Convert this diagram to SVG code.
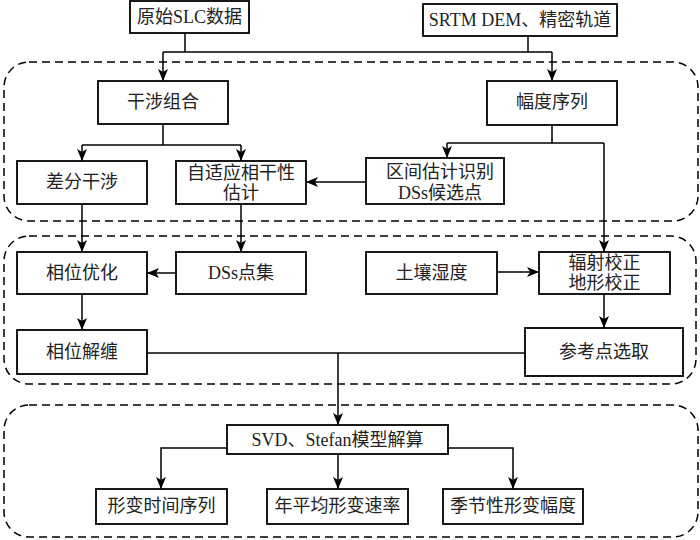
<svg xmlns="http://www.w3.org/2000/svg" width="700" height="540" viewBox="0 0 700 540">
<defs>
<marker id="ah" viewBox="0 0 12 10" refX="12" refY="5" markerWidth="12" markerHeight="10" markerUnits="userSpaceOnUse" orient="auto">
<path d="M0,0 L12,5 L0,10 L3,5 Z" fill="#000"/>
</marker>
<style>
.box{fill:#fff;stroke:#000;stroke-width:1.8}
.grp{fill:none;stroke:#000;stroke-width:1.5;stroke-dasharray:8 5}
.ln{fill:none;stroke:#000;stroke-width:1.5}
.ar{fill:none;stroke:#000;stroke-width:1.5;marker-end:url(#ah)}
text{font-family:"Liberation Serif","Noto Sans CJK SC",serif;font-size:18px;fill:#222;text-anchor:middle;dominant-baseline:central}
</style>
</defs>
<rect width="700" height="540" fill="#fff"/>
<g id="groups">
<rect class="grp" x="4" y="62" width="694" height="159" rx="25" ry="25"/>
<rect class="grp" x="4" y="236" width="692" height="148" rx="25" ry="25"/>
<rect class="grp" x="4" y="405" width="694" height="132" rx="25" ry="25"/>
</g>
<g id="connectors">
<path class="ln" d="M185,33 V52 M528,36 V52 M163,52 H552"/>
<path class="ar" d="M163,52 V81"/>
<path class="ar" d="M552,52 V81"/>
<path class="ln" d="M163,124 V145 M82,145 H241"/>
<path class="ar" d="M82,145 V161"/>
<path class="ar" d="M241,145 V161"/>
<path class="ln" d="M552,125 V143 M447,143 H604"/>
<path class="ar" d="M447,143 V158"/>
<path class="ar" d="M604,143 V252"/>
<path class="ar" d="M366,182 H306"/>
<path class="ar" d="M82,204 V252"/>
<path class="ar" d="M241,204 V252"/>
<path class="ar" d="M176,273 H147"/>
<path class="ar" d="M497,272 H539"/>
<path class="ar" d="M82,294 V330"/>
<path class="ar" d="M604,294 V328"/>
<path class="ln" d="M147,353 H525"/>
<path class="ar" d="M338,353 V425"/>
<path class="ar" d="M227,448 H161 V489"/>
<path class="ar" d="M338,454 V489"/>
<path class="ar" d="M448,448 H513 V489"/>
</g>
<g id="n_slc"><rect class="box" x="130" y="1" width="119" height="32"/><text x="189.5" y="17">原始SLC数据</text></g>
<g id="n_srtm"><rect class="box" x="423" y="4" width="194" height="32"/><text x="520" y="20">SRTM DEM、精密轨道</text></g>
<g id="n_gszh"><rect class="box" x="98" y="81" width="130" height="43"/><text x="163" y="102">干涉组合</text></g>
<g id="n_fdxl"><rect class="box" x="487" y="81" width="130" height="44"/><text x="552" y="102">幅度序列</text></g>
<g id="n_cfgs"><rect class="box" x="17" y="161" width="130" height="43"/><text x="82" y="182">差分干涉</text></g>
<g id="n_zsy"><rect class="box" x="176" y="161" width="130" height="43"/><text x="241" y="173">自适应相干性</text><text x="241" y="193">估计</text></g>
<g id="n_qj"><rect class="box" x="366" y="158" width="138" height="46"/><text x="440" y="172">区间估计识别</text><text x="440" y="193">DSs候选点</text></g>
<g id="n_xwyh"><rect class="box" x="17" y="252" width="130" height="42"/><text x="82" y="273">相位优化</text></g>
<g id="n_dss"><rect class="box" x="176" y="252" width="130" height="42"/><text x="241" y="273">DSs点集</text></g>
<g id="n_trsd"><rect class="box" x="366" y="252" width="131" height="42"/><text x="431.5" y="273">土壤湿度</text></g>
<g id="n_fsjz"><rect class="box" x="539" y="252" width="131" height="42"/><text x="604.5" y="263">辐射校正</text><text x="604.5" y="283">地形校正</text></g>
<g id="n_xwjc"><rect class="box" x="17" y="330" width="130" height="44"/><text x="82" y="352">相位解缠</text></g>
<g id="n_ckd"><rect class="box" x="525" y="328" width="158" height="48"/><text x="604" y="352">参考点选取</text></g>
<g id="n_svd"><rect class="box" x="227" y="425" width="221" height="29"/><text x="337.5" y="440">SVD、Stefan模型解算</text></g>
<g id="n_sjxl"><rect class="box" x="96" y="489" width="131" height="35"/><text x="161.5" y="506">形变时间序列</text></g>
<g id="n_npj"><rect class="box" x="267" y="489" width="141" height="35"/><text x="337.5" y="506">年平均形变速率</text></g>
<g id="n_jjx"><rect class="box" x="443" y="489" width="140" height="35"/><text x="513" y="506">季节性形变幅度</text></g>
</svg>
